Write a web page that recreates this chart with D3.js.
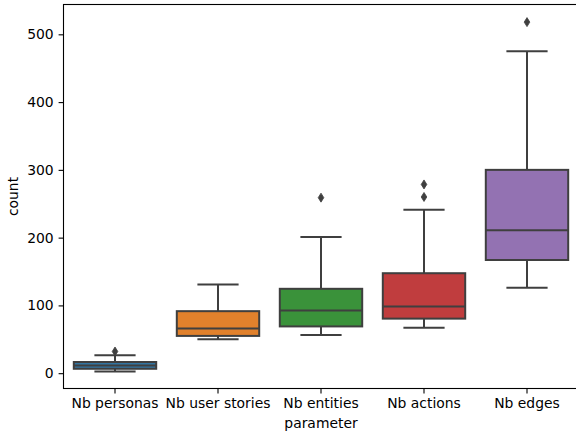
<!DOCTYPE html>
<html>
<head>
<meta charset="utf-8">
<script src="https://cdn.jsdelivr.net/npm/d3@7"></script>
<style>
  html, body { margin: 0; padding: 0; background: #fff; }
  svg { display: block; }
  text { font-family: "DejaVu Sans", sans-serif; }
</style>
</head>
<body>
<svg id="chart" width="576" height="436"></svg>
<script>
// Box summaries per parameter
const categories = ["Nb personas", "Nb user stories", "Nb entities", "Nb actions", "Nb edges"];
const whiskerLow  = [2.5, 50, 56.5, 67, 126];
const q1          = [6.5, 55, 69, 80.5, 167];
const medians     = [11.5, 66, 92.5, 98.5, 211];
const q3          = [16.5, 91.5, 124.5, 147.5, 300];
const whiskerHigh = [26.5, 131, 201, 241, 475];
const outliers    = [[32], [], [259], [260, 278.5], [518]];
const colors      = ["#3274a1", "#e1812c", "#3a923a", "#c03d3e", "#9372b2"];
const yTicks      = [0, 100, 200, 300, 400, 500];

const svg = d3.select("#chart");
const plotLeft = 63.5, plotRight = 578.5, plotTop = 4.5, plotBottom = 388.5;
const fontSize = "13.9px";

const x = d3.scaleBand().domain(categories).range([plotLeft, plotRight]).paddingInner(0).paddingOuter(0);
const y = d3.scaleLinear().domain([-22.6, 544]).range([plotBottom, plotTop]);

const lineColor = "#3f3f3f";
const lw = 2;
const boxW = x.bandwidth() * 0.8;

const boxes = categories.map((c, i) => ({
  c, i, lo: whiskerLow[i], q1: q1[i], med: medians[i], q3: q3[i], hi: whiskerHigh[i], out: outliers[i], color: colors[i]
}));

const g = svg.append("g");

boxes.forEach(b => {
  const cx = x(b.c) + x.bandwidth() / 2;
  const capW = boxW / 2;
  // whiskers
  g.append("line").attr("x1", cx).attr("x2", cx).attr("y1", y(b.q3)).attr("y2", y(b.hi))
    .attr("stroke", lineColor).attr("stroke-width", lw);
  g.append("line").attr("x1", cx).attr("x2", cx).attr("y1", y(b.q1)).attr("y2", y(b.lo))
    .attr("stroke", lineColor).attr("stroke-width", lw);
  // caps
  [b.hi, b.lo].forEach(v => {
    g.append("line").attr("x1", cx - capW / 2).attr("x2", cx + capW / 2).attr("y1", y(v)).attr("y2", y(v))
      .attr("stroke", lineColor).attr("stroke-width", lw);
  });
  // box
  g.append("rect").attr("x", cx - boxW / 2).attr("width", boxW)
    .attr("y", y(b.q3)).attr("height", y(b.q1) - y(b.q3))
    .attr("fill", b.color).attr("stroke", lineColor).attr("stroke-width", lw);
  // median
  g.append("line").attr("x1", cx - boxW / 2).attr("x2", cx + boxW / 2).attr("y1", y(b.med)).attr("y2", y(b.med))
    .attr("stroke", lineColor).attr("stroke-width", lw);
  // fliers as thin diamonds
  b.out.forEach(v => {
    const h = 4.5, w = 2.8;
    const py = y(v);
    g.append("path")
      .attr("d", `M${cx},${py - h}L${cx + w},${py}L${cx},${py + h}L${cx - w},${py}Z`)
      .attr("fill", lineColor).attr("stroke", lineColor).attr("stroke-width", 0.8);
  });
});

// axes
const yAxis = d3.axisLeft(y).tickValues(yTicks).tickSize(4.9).tickPadding(4.9);
const ya = svg.append("g").attr("transform", `translate(${plotLeft},0)`).call(yAxis);
ya.select(".domain").remove();
ya.selectAll("line").attr("stroke", "#000").attr("stroke-width", 1.1);
ya.selectAll("text").attr("font-size", fontSize).attr("fill", "#000");

const xAxis = d3.axisBottom(x).tickSize(4.9).tickPadding(4.9);
const xa = svg.append("g").attr("transform", `translate(0,${plotBottom})`).call(xAxis);
xa.select(".domain").remove();
xa.selectAll("line").attr("stroke", "#000").attr("stroke-width", 1.1);
xa.selectAll("text").attr("font-size", fontSize).attr("fill", "#000");

// spines
svg.append("rect").attr("x", plotLeft).attr("y", plotTop).attr("width", plotRight - plotLeft).attr("height", plotBottom - plotTop)
  .attr("fill", "none").attr("stroke", "#000").attr("stroke-width", 1.1);

// axis labels
svg.append("text").attr("x", (plotLeft + plotRight) / 2).attr("y", 427.5).attr("text-anchor", "middle")
  .attr("font-size", fontSize).text("parameter");
svg.append("text").attr("transform", `translate(18,${(plotTop + plotBottom) / 2}) rotate(-90)`).attr("text-anchor", "middle")
  .attr("font-size", fontSize).text("count");
</script>
</body>
</html>
